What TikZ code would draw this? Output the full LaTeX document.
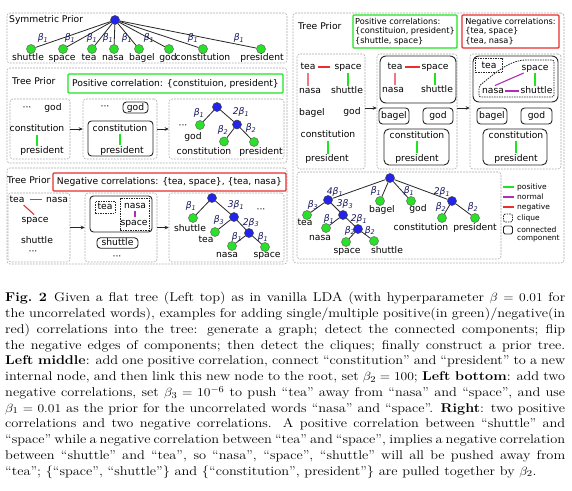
\documentclass[tikz,border=0pt]{standalone}
\usepackage{fontspec}
\usepackage{graphicx}
\usetikzlibrary{arrows.meta}
\newfontfamily\dvs{DejaVu Sans}
\definecolor{nblue}{RGB}{35,35,235}
\definecolor{ngreen}{RGB}{40,225,40}
\definecolor{posc}{RGB}{30,230,30}
\definecolor{negc}{RGB}{235,45,45}
\definecolor{negpink}{RGB}{240,120,130}
\definecolor{nrmc}{RGB}{175,45,185}
\definecolor{bcol}{RGB}{25,25,95}
\definecolor{pang}{RGB}{170,170,170}
\newcommand\bet[2][]{{\itshape #1β\textsubscript{#2}}}
\newcommand\mkbox[6]{%
  \pgfmathsetmacro\bxw{#4-#2}\pgfmathsetmacro\bxh{#5-#3}%
  \pgfmathsetmacro\bxx{(#2+#4)/2}\pgfmathsetmacro\bxy{(#3+#5)/2}%
  \node[#6, inner sep=0pt, minimum width=\bxw pt, minimum height=\bxh pt] (#1) at (\bxx,\bxy) {};}
\begin{document}
\begin{tikzpicture}[x=1pt,y=-1pt,
  lbl/.style={font=\dvs\fontsize{9.2}{10}\selectfont, inner sep=1pt, text height=6.8pt, text depth=1.8pt},
  blab/.style={lbl, text=bcol},
  hd/.style={font=\dvs\fontsize{8.2}{9.4}\selectfont, inner sep=0pt, align=left},
  lg/.style={font=\dvs\fontsize{7.5}{8.5}\selectfont, inner sep=0pt, anchor=west},
  panel/.style={draw=pang, dash pattern=on 1.8pt off 1.2pt, rounded corners=3pt, line width=0.6pt},
  comp/.style={draw=black!85, rounded corners=3.5pt, line width=0.9pt},
  clq/.style={draw=black!85, dash pattern=on 1.5pt off 1pt, line width=0.8pt},
  posbox/.style={draw=posc, line width=1.4pt, rounded corners=1pt},
  negbox/.style={draw=negc, line width=1.4pt, rounded corners=1pt},
  bn/.style={circle, draw=black!75, fill=nblue, inner sep=0pt, minimum size=9pt, line width=0.5pt},
  gn/.style={circle, draw=black!60, fill=ngreen, inner sep=0pt, minimum size=9pt, line width=0.5pt},
  tedge/.style={draw=black!85, line width=0.8pt},
  arr/.style={-{Stealth[length=4pt,width=3.6pt]}, line width=0.8pt, draw=black!85},
  posl/.style={draw=posc, line width=1.1pt},
  negl/.style={draw=negc, line width=1.1pt},
  negp/.style={draw=negpink, line width=1.1pt},
  nrml/.style={draw=nrmc, line width=1.1pt}]
\useasboundingbox (0,0) rectangle (572,490);
\fill[white] (0,0) rectangle (572,490);

% ---------------- Panel 1: symmetric prior
\mkbox{P1}{7}{13}{287}{63}{panel}
\node[lbl, anchor=west] (t1) at (8,20) {Symmetric Prior};
\node[bn] (r1) at (115,20) {};
\foreach \n/\x/\lx/\bx/\w in {1/31/28/43/shuttle, 2/63/62/70/space, 3/92/89/92/tea, 4/114/113/108/nasa, 5/139/142/127/bagel, 6/169/168/149/god, 7/203/203/193/constitution, 8/261/262/239/president}{
  \node[gn] (a\n) at (\x,49) {};
  \draw[tedge] (r1) -- (a\n);
  \node[lbl] (la\n) at (\lx,57.5) {\w};
  \node[blab] (ba\n) at (\bx,38) {\bet{1}};
}

% ---------------- Panel 2: one positive correlation
\mkbox{P2}{7}{68}{287}{163}{panel}
\node[lbl, anchor=west] (t2) at (11,82) {Tree Prior};
\node[lbl, posbox, minimum width=215pt, minimum height=19pt] (h2) at (175.5,83.5) {Positive correlation: \{constituion, president\}};
\mkbox{B1}{10}{99}{70}{159}{panel}
\mkbox{B2}{83}{99}{157}{159}{panel}
\mkbox{B3}{169}{99}{284}{159}{panel}
\node[lbl] (b1d) at (27,107.5) {···};
\node[lbl] (b1g) at (53,108) {god};
\node[lbl] (b1c) at (37,129) {constitution};
\node[lbl] (b1p) at (42,151) {president};
\draw[posl] (b1c.south) -- (b1c.south |- b1p.north);
\draw[arr] (B1.east |- B2.center) -- (B2.west);
\node[lbl] (b2d) at (105,107) {···};
\node[lbl, comp, inner sep=0pt, minimum width=25pt, minimum height=11pt] (b2g) at (135.5,107.5) {god};
\mkbox{C2}{88}{121}{153}{156}{comp}
\node[lbl] (b2c) at (120,128.5) {constitution};
\node[lbl] (b2p) at (122,150.5) {president};
\draw[posl] (b2c.south) -- (b2c.south |- b2p.north);
\draw[arr] (B2.east) -- (B3.west);
\node[bn] (R3) at (217,107) {};
\node[gn] (G3) at (200,125) {};
\node[bn] (I3) at (237,124.5) {};
\node[gn] (C3) at (224,141.5) {};
\node[gn] (Q3) at (254,142) {};
\draw[tedge] (R3) -- (G3); \draw[tedge] (R3) -- (I3);
\draw[tedge] (I3) -- (C3); \draw[tedge] (I3) -- (Q3);
\node[blab] (b3a) at (199,113) {\bet{1}};
\node[blab] (b3b) at (241,112) {\bet[2]{1}};
\node[blab] (b3c) at (223,130) {\bet{2}};
\node[blab] (b3d) at (251,128) {\bet{2}};
\node[lbl] (b3e) at (183,125.5) {···};
\node[lbl] (b3f) at (193,137) {god};
\node[lbl] (b3g) at (204,152) {constitution};
\node[lbl] (b3h) at (261,152) {president};

% ---------------- Panel 3: two negative correlations
\mkbox{P3}{7}{168}{287}{264}{panel}
\node[lbl, anchor=west] (t3) at (6,181) {Tree Prior};
\node[lbl, negbox, minimum width=233pt, minimum height=18pt] (h3) at (169.5,182) {Negative correlations: \{tea, space\}, \{tea, nasa\}};
\mkbox{D1}{8}{193}{70}{262}{panel}
\mkbox{D2}{85}{193}{157}{262}{panel}
\mkbox{D3}{169}{193}{284}{262}{panel}
\node[lbl] (d1t) at (17,199.5) {tea};
\node[lbl] (d1n) at (57,199.5) {nasa};
\draw[negl, shorten <=4pt, shorten >=3pt] (d1t) -- (d1n);
\node[lbl] (d1s) at (35,220) {space};
\draw[negl] (d1t.-40) -- (d1s.100);
\node[lbl] (d1sh) at (37,241) {shuttle};
\node[lbl] (d1d) at (33,252) {···};
\draw[arr] (D1.east) -- (D2.west);
\mkbox{K2}{90}{196}{152}{232}{comp}
\mkbox{Q1}{95}{201}{115}{213}{clq}
\node[lbl] (d2t) at (105,207) {tea};
\mkbox{Q2}{120}{198}{149}{230}{clq}
\node[lbl] (d2n) at (135,205.5) {nasa};
\node[lbl] (d2s) at (134,222.5) {space};
\draw[nrml] (d2n.south) -- (d2n.south |- d2s.north);
\node[lbl, comp, inner sep=0pt, minimum width=41pt, minimum height=10.5pt] (d2sh) at (117.5,243) {shuttle};
\node[lbl] (d2d) at (117,257) {···};
\draw[arr] (D2.east) -- (D3.west);
\node[bn] (R4) at (212,198) {};
\node[gn] (S4) at (193,218) {};
\node[bn] (I4) at (234,217) {};
\node[gn] (T4) at (215,232) {};
\node[bn] (J4) at (249,233) {};
\node[gn] (N4) at (232,246) {};
\node[gn] (Sp4) at (265,247) {};
\draw[tedge] (R4) -- (S4); \draw[tedge] (R4) -- (I4);
\draw[tedge] (I4) -- (T4); \draw[tedge] (I4) -- (J4);
\draw[tedge] (J4) -- (N4); \draw[tedge] (J4) -- (Sp4);
\node[blab] (c4a) at (191,206) {\bet{1}};
\node[blab] (c4b) at (236,205) {\bet[3]{1}};
\node[lbl] (c4c) at (261,210) {···};
\node[blab] (c4d) at (219,220) {\bet{3}};
\node[blab] (c4e) at (251,222.5) {\bet[2]{3}};
\node[blab] (c4f) at (237,237) {\bet{1}};
\node[blab] (c4g) at (263,237) {\bet{1}};
\node[lbl] (c4h) at (190,228.5) {shuttle};
\node[lbl] (c4i) at (206,240) {tea};
\node[lbl] (c4j) at (227,255) {nasa};
\node[lbl] (c4k) at (267,255) {space};

% ---------------- Right panel
\mkbox{PR}{293}{13}{564}{263}{panel}
\node[lbl, anchor=west] (tr) at (297,27) {Tree Prior};
\node[hd, posbox, minimum width=104pt, minimum height=33pt] (HP) at (405,31.5) {Positive correlations:\\\{constituion, president\}\\\{shuttle, space\}};
\node[hd, negbox, minimum width=97pt, minimum height=33pt] (HN) at (510.5,31.5) {Negative correlations:\\\{tea, space\}\\\{tea, nasa\}};
\mkbox{E1}{297}{54}{365}{169}{panel}
\mkbox{E2}{377}{54}{457}{169}{panel}
\mkbox{E3}{470}{54}{561}{169}{panel}
\coordinate (ay) at (0,108);
% E1
\node[lbl] (e1t) at (308,67) {tea};
\node[lbl] (e1s) at (348,67) {space};
\node[lbl] (e1n) at (310,91) {nasa};
\node[lbl] (e1h) at (347,91) {shuttle};
\draw[negl, shorten <=1.5pt, shorten >=3.5pt] (e1t) -- (e1s);
\draw[negp] (e1t.south) -- (e1t.south |- e1n.north);
\draw[posl] (e1s.south) -- (e1s.south |- e1h.north);
\node[lbl] (e1b) at (312,113) {bagel};
\node[lbl] (e1g) at (352,111.5) {god};
\node[lbl] (e1c) at (328,135) {constitution};
\node[lbl] (e1p) at (327,159) {president};
\draw[posl] (e1c.south) -- (e1c.south |- e1p.north);
\draw[arr] (E1.east |- ay) -- (E2.west |- ay);
% E2
\mkbox{K3}{380}{56}{456}{103}{comp, rounded corners=6pt}
\node[lbl] (e2t) at (395,67) {tea};
\node[lbl] (e2s) at (435,67) {space};
\node[lbl] (e2n) at (393,90) {nasa};
\node[lbl] (e2h) at (437,90) {shuttle};
\draw[negl, shorten <=1.5pt] (e2t) -- (e2s);
\draw[negp] (e2t.south) -- (e2t.south |- e2n.north);
\draw[posl] (e2s.south) -- (e2s.south |- e2h.north);
\node[lbl, comp, inner sep=0pt, minimum width=30pt, minimum height=16pt] (e2b) at (394,116) {bagel};
\node[lbl, comp, inner sep=0pt, minimum width=30pt, minimum height=16pt] (e2g) at (438,116) {god};
\mkbox{K4}{384}{129}{449}{165}{comp, rounded corners=5pt}
\node[lbl] (e2c) at (417,135.5) {constitution};
\node[lbl] (e2p) at (417,158.5) {president};
\draw[posl] (e2c.south) -- (e2c.south |- e2p.north);
\draw[arr] (E2.east |- ay) -- (E3.west |- ay);
% E3
\mkbox{K5}{473}{56}{558}{102}{comp, rounded corners=6pt}
\node[lbl, clq, inner sep=0pt, minimum width=27pt, minimum height=14.5pt] (e3t) at (489,65.5) {tea};
\draw[clq, rounded corners=2pt] (479,97) -- (479,86) .. controls (494,74) and (506,63) .. (523,60) -- (554,60) -- (554,97) -- cycle;
\node[lbl] (e3s) at (535,67.5) {space};
\node[lbl] (e3n) at (493,91) {nasa};
\node[lbl] (e3h) at (536.5,91) {shuttle};
\draw[nrml] (e3n.70) -- (e3s.206);
\draw[nrml] (e3n) -- (e3h);
\draw[posl] (e3s.south) -- (e3s.south |- e3h.north);
\node[lbl, comp, inner sep=0pt, minimum width=30pt, minimum height=16pt] (e3b) at (492,116) {bagel};
\node[lbl, comp, inner sep=0pt, minimum width=31pt, minimum height=16pt] (e3g) at (536.5,116) {god};
\mkbox{K6}{483}{129}{547}{165}{comp, rounded corners=5pt}
\node[lbl] (e3c) at (516,135.5) {constitution};
\node[lbl] (e3p) at (516,158.5) {president};
\draw[posl] (e3c.south) -- (e3c.south |- e3p.north);

% Tree
\mkbox{F}{297}{172}{501}{259}{panel}
\node[bn] (F0) at (390,178) {};
\node[bn] (FA) at (328,200) {};
\node[gn] (FBg) at (380,201) {};
\node[gn] (FGd) at (411,201) {};
\node[bn] (FB) at (452,201) {};
\node[gn] (FT) at (307,215) {};
\node[bn] (FC) at (343,215) {};
\node[gn] (FN) at (326,228) {};
\node[bn] (FD) at (358,229) {};
\node[gn] (FS) at (346,242) {};
\node[gn] (FH) at (374,241) {};
\node[gn] (FCo) at (442,218) {};
\node[gn] (FP) at (475,218) {};
\draw[tedge] (F0) -- (FA); \draw[tedge] (F0) -- (FBg); \draw[tedge] (F0) -- (FGd); \draw[tedge] (F0) -- (FB);
\draw[tedge] (FA) -- (FT); \draw[tedge] (FA) -- (FC);
\draw[tedge] (FC) -- (FN); \draw[tedge] (FC) -- (FD);
\draw[tedge] (FD) -- (FS); \draw[tedge] (FD) -- (FH);
\draw[tedge] (FB) -- (FCo); \draw[tedge] (FB) -- (FP);
\node[blab] (fl1) at (335,192) {\bet[4]{1}};
\node[blab] (fl2) at (376,191) {\bet{1}};
\node[blab] (fl3) at (409,191) {\bet{1}};
\node[blab] (fl4) at (442,192) {\bet[2]{1}};
\node[blab] (fl5) at (313,205) {\bet{3}};
\node[blab] (fl6) at (345,204) {\bet[3]{3}};
\node[blab] (fl7) at (329,219) {\bet{1}};
\node[blab] (fl8) at (359,219) {\bet[2]{1}};
\node[blab] (fl9) at (350,230.5) {\bet{2}};
\node[blab] (fl10) at (370,230.5) {\bet{2}};
\node[blab] (fl11) at (441,207) {\bet{2}};
\node[blab] (fl12) at (473,207) {\bet{2}};
\node[lbl] (fw1) at (382,210) {bagel};
\node[lbl] (fw2) at (418,209) {god};
\node[lbl] (fw3) at (305,223) {tea};
\node[lbl] (fw4) at (320,238) {nasa};
\node[lbl] (fw5) at (347,251) {space};
\node[lbl] (fw6) at (387,251) {shuttle};
\node[lbl] (fw7) at (421,228) {constitution};
\node[lbl] (fw8) at (475,228) {president};

% Legend
\coordinate (g1a) at (503,187); \coordinate (g1b) at (514,187);
\coordinate (g2a) at (503,197); \coordinate (g2b) at (514,197);
\coordinate (g3a) at (503,207); \coordinate (g3b) at (514,207);
\draw[posl, line width=1.4pt] (g1a) -- (g1b);
\draw[nrml, line width=1.4pt] (g2a) -- (g2b);
\draw[negl, line width=1.4pt] (g3a) -- (g3b);
\node[lg] (gt1) at (517,187) {positive};
\node[lg] (gt2) at (517,197) {normal};
\node[lg] (gt3) at (517,207) {negative};
\node[clq, rounded corners=2pt, minimum width=9pt, minimum height=8pt, inner sep=0pt] (gq) at (508,218) {};
\node[lg] (gt4) at (517,218) {clique};
\node[comp, rounded corners=1.5pt, minimum width=9pt, minimum height=8pt, inner sep=0pt] (gc) at (508,230) {};
\node[lg] (gt5) at (517,229.5) {connected};
\node[lg] (gt6) at (517,238.5) {component};

% ---------------- Caption
\node[anchor=north west, inner sep=0pt] (cap) at (5,292.2) {\scalebox{1.13}[1]{\begin{minipage}{495.6pt}\fontsize{12.7}{15.75}\selectfont\setlength{\parindent}{0pt}%
\makebox[495.6pt][s]{\textbf{Fig.~2}\enspace Given a flat tree (Left top) as in vanilla LDA (with hyperparameter $\beta = 0.01$ for}\\
\makebox[495.6pt][s]{the uncorrelated words), examples for adding single/multiple positive(in green)/negative(in}\\
\makebox[495.6pt][s]{red) correlations into the tree: generate a graph; detect the connected components; flip}\\
\makebox[495.6pt][s]{the negative edges of components; then detect the cliques; finally construct a prior tree.}\\
\makebox[495.6pt][s]{\textbf{Left middle}: add one positive correlation, connect “constitution” and “president” to a new}\\
\makebox[495.6pt][s]{internal node, and then link this new node to the root, set $\beta_2 = 100$; \textbf{Left bottom}: add two}\\
\makebox[495.6pt][s]{negative correlations, set $\beta_3 = 10^{-6}$ to push “tea” away from “nasa” and “space”, and use}\\
\makebox[495.6pt][s]{$\beta_1 = 0.01$ as the prior for the uncorrelated words “nasa” and “space”. \textbf{Right}: two positive}\\
\makebox[495.6pt][s]{correlations and two negative correlations. A positive correlation between “shuttle” and}\\
\makebox[495.6pt][s]{“space” while a negative correlation between “tea” and “space”, implies a negative correlation}\\
\makebox[495.6pt][s]{between “shuttle” and “tea”, so “nasa”, “space”, “shuttle” will all be pushed away from}\\
“tea”; \{“space”, “shuttle”\} and \{“constitution”, president”\} are pulled together by $\beta_2$.
\end{minipage}}};
\end{tikzpicture}
\end{document}
